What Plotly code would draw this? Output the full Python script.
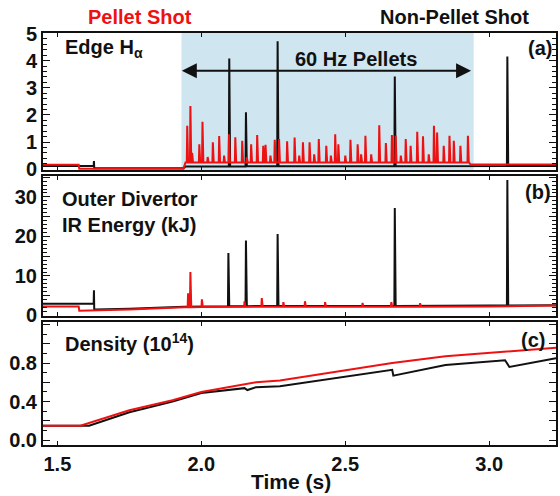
import plotly.graph_objects as go
from plotly.subplots import make_subplots

RED = "#ee1111"
BLACK = "#111111"
SHADE = "rgb(207,229,240)"

T_START, T_END = 1.45, 3.232
PELLET_WINDOW = (1.931, 2.946)

# ---------------- Edge H-alpha (a) ----------------
# baseline vertices: time (s), level
ha_red_base_t = [1.45, 1.574, 1.576, 1.938, 1.945, 2.93, 2.935, 3.232]
ha_red_base_v = [0.16, 0.16, 0.02, 0.02, 0.25, 0.25, 0.17, 0.17]
ha_black_base_t = [1.45, 1.626, 1.628, 1.938, 1.945, 3.232]
ha_black_base_v = [0.12, 0.12, 0.03, 0.03, 0.10, 0.12]
# pellet-triggered ELM spikes: time (s), peak
ha_red_spike_t = [1.951, 1.962, 1.968, 1.993, 2.004, 2.022, 2.040, 2.062, 2.079,
                  2.096, 2.118, 2.142, 2.158, 2.173, 2.194, 2.215, 2.223, 2.240,
                  2.255, 2.270, 2.298, 2.324, 2.340, 2.353, 2.376, 2.392, 2.408,
                  2.434, 2.450, 2.465, 2.476, 2.500, 2.518, 2.543, 2.555, 2.570,
                  2.590, 2.618, 2.641, 2.662, 2.675, 2.693, 2.710, 2.727, 2.750,
                  2.770, 2.790, 2.808, 2.819, 2.842, 2.862, 2.877, 2.900, 2.926]
ha_red_spike_h = [1.60, 2.33, 0.60, 0.92, 1.75, 0.45, 0.99, 1.22, 0.50,
                  1.29, 1.18, 1.05, 0.45, 0.92, 1.26, 0.86, 0.90, 0.50,
                  1.08, 1.11, 1.03, 1.17, 0.50, 0.99, 0.99, 0.55, 1.11,
                  0.86, 0.50, 1.29, 0.92, 0.50, 1.08, 0.92, 0.55, 1.23,
                  0.55, 1.62, 0.96, 1.26, 1.23, 0.50, 1.11, 0.86, 1.38,
                  1.21, 0.55, 1.60, 1.35, 0.86, 1.23, 1.05, 0.86, 1.23]
ha_black_spike_t = [1.627, 2.097, 2.155, 2.265, 2.672, 3.063]
ha_black_spike_h = [0.30, 4.08, 2.10, 4.72, 3.42, 4.15]

# ---------------- Outer divertor IR energy (b) ----------------
ir_red_base_t = [1.45, 1.574, 1.576, 1.75, 1.94, 2.2, 2.6, 3.0, 3.232]
ir_red_base_v = [2.3, 2.3, 1.2, 1.5, 2.1, 2.2, 2.2, 2.3, 2.5]
ir_black_base_t = [1.45, 1.626, 1.628, 1.75, 1.94, 2.2, 2.6, 3.0, 3.232]
ir_black_base_v = [3.0, 3.0, 1.5, 1.7, 2.2, 2.4, 2.4, 2.5, 2.6]
ir_red_spike_t = [1.954, 1.962, 2.002, 2.150, 2.210, 2.285, 2.360, 2.430, 2.560,
                  2.660, 2.760]
ir_red_spike_h = [5.6, 11.0, 4.1, 3.6, 4.4, 3.4, 3.6, 3.4, 3.2, 3.4, 3.1]
ir_black_spike_t = [1.627, 2.094, 2.155, 2.265, 2.672, 3.063]
ir_black_spike_h = [6.4, 15.8, 19.0, 20.6, 27.2, 34.3]

# ---------------- Line density (c) ----------------
ne_red_t = [1.45, 1.580, 1.75, 1.90, 2.00, 2.10, 2.19, 2.273, 2.503, 2.663,
            2.848, 3.055, 3.232]
ne_red_v = [0.15, 0.15, 0.31, 0.415, 0.50, 0.55, 0.60, 0.62, 0.73, 0.80,
            0.87, 0.92, 0.96]
ne_black_t = [1.45, 1.610, 1.75, 1.90, 2.00, 2.10, 2.15, 2.16, 2.19, 2.273,
              2.503, 2.663, 2.667, 2.848, 3.055, 3.070, 3.232]
ne_black_v = [0.15, 0.15, 0.29, 0.40, 0.49, 0.52, 0.54, 0.52, 0.55, 0.56,
              0.66, 0.73, 0.67, 0.78, 0.83, 0.76, 0.85]


def level_at(bt, bv, t):
    for i in range(len(bt) - 1):
        if bt[i] <= t <= bt[i + 1]:
            f = (t - bt[i]) / (bt[i + 1] - bt[i])
            return bv[i] + f * (bv[i + 1] - bv[i])
    return bv[-1]


def spiky_trace(bt, bv, spike_t, spike_h, rise=0.0015, fall=0.003):
    """Baseline polyline with narrow spikes laid on top of it."""
    pts = [(t, v, 0) for t, v in zip(bt, bv)]
    for t, h in zip(spike_t, spike_h):
        pts += [(t - rise, level_at(bt, bv, t - rise), 1), (t, h, 2),
                (t + fall, level_at(bt, bv, t + fall), 3)]
    pts.sort(key=lambda p: (p[0], p[2]))
    return [p[0] for p in pts], [p[1] for p in pts]


fig = make_subplots(rows=3, cols=1, shared_xaxes=True)

for bt, bv, st, sh, col in [
        (ha_black_base_t, ha_black_base_v, ha_black_spike_t, ha_black_spike_h, BLACK),
        (ha_red_base_t, ha_red_base_v, ha_red_spike_t, ha_red_spike_h, RED)]:
    x, y = spiky_trace(bt, bv, st, sh)
    fig.add_trace(go.Scatter(x=x, y=y, mode="lines",
                             line=dict(color=col, width=2, simplify=False)), row=1, col=1)

for bt, bv, st, sh, col in [
        (ir_black_base_t, ir_black_base_v, ir_black_spike_t, ir_black_spike_h, BLACK),
        (ir_red_base_t, ir_red_base_v, ir_red_spike_t, ir_red_spike_h, RED)]:
    x, y = spiky_trace(bt, bv, st, sh)
    fig.add_trace(go.Scatter(x=x, y=y, mode="lines",
                             line=dict(color=col, width=2, simplify=False)), row=2, col=1)

fig.add_trace(go.Scatter(x=ne_black_t, y=ne_black_v, mode="lines",
                         line=dict(color=BLACK, width=2)), row=3, col=1)
fig.add_trace(go.Scatter(x=ne_red_t, y=ne_red_v, mode="lines",
                         line=dict(color=RED, width=2)), row=3, col=1)

# pellet window shading
fig.add_shape(type="rect", xref="x", yref="y", x0=PELLET_WINDOW[0], x1=PELLET_WINDOW[1],
              y0=-0.03, y1=5.02, fillcolor=SHADE, line_width=0, layer="below")

tick_font = dict(family="Liberation Sans", size=20, color=BLACK, weight=700)
frame = dict(showline=True, linecolor=BLACK, linewidth=2, mirror="allticks",
             ticks="inside", tickcolor=BLACK, showgrid=False, zeroline=False)

for i, dom in zip([1, 2, 3], [[0.6675, 1.0], [0.3131, 0.6529], [0.0, 0.2985]]):
    fig.update_xaxes(range=[T_START, T_END], tickvals=[1.5, 2.0, 2.5, 3.0],
                     ticktext=["1.5", "2.0", "2.5", "3.0"], ticklen=4,
                     tickfont=tick_font, ticklabelstandoff=0, row=i, col=1, **frame)
    fig.update_yaxes(domain=dom, row=i, col=1, **frame)

fig.update_yaxes(range=[-0.03, 5.02], tickvals=[0, 1, 2, 3, 4, 5], ticklen=7,
                 minor=dict(dtick=0.2, ticklen=4, ticks="inside", tickcolor=BLACK),
                 tickfont=tick_font, row=1, col=1)
fig.update_yaxes(range=[-0.13, 35.3], tickvals=[0, 5, 10, 15, 20, 25, 30, 35],
                 ticktext=["0", "", "10", "", "20", "", "30", ""], ticklen=7,
                 minor=dict(dtick=1, ticklen=4, ticks="inside", tickcolor=BLACK),
                 tickfont=tick_font, row=2, col=1)
fig.update_yaxes(range=[-0.05, 1.226], tickvals=[0, 0.2, 0.4, 0.6, 0.8, 1.0, 1.2],
                 ticktext=["0.0", "", "0.4", "", "0.8", "", ""], ticklen=7,
                 minor=dict(dtick=0.1, ticklen=4, ticks="inside", tickcolor=BLACK),
                 tickfont=tick_font, row=3, col=1)


def label(text, x, y, size=20, color=BLACK, xanchor="center", align="center"):
    fig.add_annotation(text=text, x=x, y=y, xref="paper", yref="paper", showarrow=False,
                       xanchor=xanchor, yanchor="middle", align=align,
                       font=dict(family="Liberation Sans", size=size, color=color, weight=700))


label("Pellet Shot", 0.1883, 1.0388, size=20, color=RED)
label("Non-Pellet Shot", 0.8019, 1.0388, size=20)
label("(a)", 0.969, 0.9636)
label("(b)", 0.965, 0.614)
label("(c)", 0.955, 0.2549)
label("Edge H<sub>α</sub>", 0.0388, 0.962, xanchor="left")
label("Outer Divertor<br>IR Energy (kJ)", 0.033, 0.5667, xanchor="left", align="left")
label("Density (10<sup>14</sup>)", 0.0388, 0.2476, xanchor="left")
label("Time (s)", 0.4835, -0.0898, size=21)
label("60 Hz Pellets", 0.6097, 0.937)

# double-headed arrow spanning the pellet window
fig.add_annotation(x=2.937, y=3.63, ax=1.927, ay=3.63, xref="x", yref="y",
                   axref="x", ayref="y", text="", showarrow=True,
                   arrowhead=2, startarrowhead=2, arrowside="end+start",
                   arrowsize=1.5, startarrowsize=1.5, arrowwidth=2, arrowcolor=BLACK)

fig.update_layout(width=560, height=496, showlegend=False,
                  margin=dict(l=43, r=2, t=33, b=51),
                  paper_bgcolor="white", plot_bgcolor="white")

fig.write_html("out.html")
